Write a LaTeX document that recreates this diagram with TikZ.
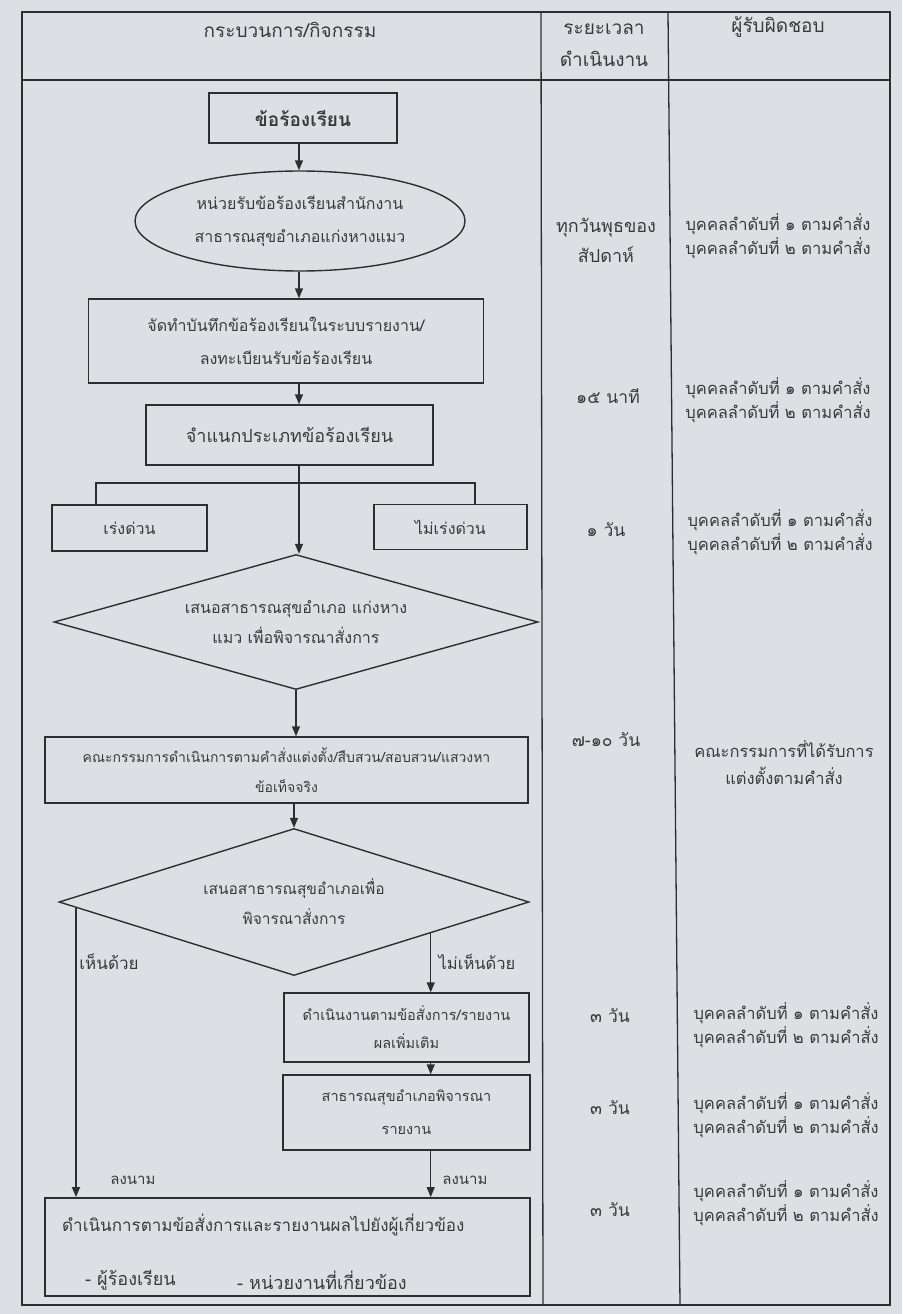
\documentclass[tikz,border=0pt]{standalone}
\usepackage{fontspec}
\setmainfont{Loma}[Script=Thai]
\usetikzlibrary{shapes.geometric,arrows.meta,calc}
\definecolor{paper}{HTML}{DCE0E5}
\definecolor{ink}{HTML}{2E2E2E}
\definecolor{txt}{HTML}{3A3A3A}
\begin{document}
\begin{tikzpicture}[x=1pt,y=-1pt,
  tbl/.style={draw=ink,line width=1.3pt},
  box/.style={draw=ink,line width=1.4pt,rectangle,inner sep=0pt,align=center,text=txt},
  ell/.style={draw=ink,line width=1.4pt,ellipse,inner sep=0pt,align=center,text=txt},
  dia/.style={draw=ink,line width=1.4pt,diamond,inner sep=0pt,align=center,text=txt},
  lbl/.style={inner sep=0pt,text=txt,align=center},
  conn/.style={draw=ink,line width=1.4pt},
  arr/.style={draw=ink,line width=1.4pt,-{Triangle[length=10pt,width=8pt]}},
  fH/.style={font=\fontsize{19}{30}\selectfont},
  fB/.style={font=\fontsize{16}{33}\selectfont},
  fR/.style={font=\fontsize{16.5}{24}\selectfont},
  fT/.style={font=\fontsize{17.5}{20}\selectfont}
]
\useasboundingbox (0,0) rectangle (902,1314);
\fill[paper] (0,0) rectangle (902,1314);
% table frame
\draw[tbl] (22,12) rectangle (890,1305);
\draw[tbl] (22,80) -- (890,80);
\draw[tbl] (541,12) -- (543,1305);
\draw[tbl] (668,12) -- (680,1305);
% header
\node[lbl,fH] (h1) at (290,30) {กระบวนการ/กิจกรรม};
\node[lbl,fH] (h2) at (604,29) {ระยะเวลา};
\node[lbl,fH] (h2b) at (604,59) {ดำเนินงาน};
\node[lbl,fH] (h3) at (778,27) {ผู้รับผิดชอบ};
% flow
\node[box,minimum width=188,minimum height=50,font=\fontsize{19}{22}\selectfont\bfseries] (n1) at (303,118) {ข้อร้องเรียน};
\node[ell,fB,minimum width=330,minimum height=100] (n2) at (300,221) {หน่วยรับข้อร้องเรียนสำนักงาน\\สาธารณสุขอำเภอแก่งหางแมว};
\node[box,fB,minimum width=395,minimum height=84] (n3) at (286,341) {จัดทำบันทึกข้อร้องเรียนในระบบรายงาน/\\ลงทะเบียนรับข้อร้องเรียน};
\node[box,font=\fontsize{18}{20}\selectfont,minimum width=287,minimum height=60] (n4) at (289.5,435) {จำแนกประเภทข้อร้องเรียน};
\node[box,fB,minimum width=155,minimum height=46] (u1) at (129.5,528) {เร่งด่วน};
\node[box,fB,minimum width=153,minimum height=45] (u2) at (450.5,527) {ไม่เร่งด่วน};
\coordinate (j) at (299,483);
\coordinate (bl) at (96,483);
\coordinate (br) at (475,483);
\node[dia,aspect=3.6,font=\fontsize{16}{30}\selectfont,minimum width=484,minimum height=135] (d1) at (296,622) {เสนอสาธารณสุขอำเภอ แก่งหาง\\แมว เพื่อพิจารณาสั่งการ};
\node[box,font=\fontsize{14}{30}\selectfont,minimum width=483,minimum height=66] (n5) at (286.5,770) {คณะกรรมการดำเนินการตามคำสั่งแต่งตั้ง/สืบสวน/สอบสวน/แสวงหา\\ข้อเท็จจริง};
\node[dia,aspect=3.2,font=\fontsize{15.5}{30}\selectfont,minimum width=470,minimum height=147] (d2) at (294,902) {เสนอสาธารณสุขอำเภอเพื่อ\\พิจารณาสั่งการ};
\node[box,font=\fontsize{14.5}{28}\selectfont,minimum width=245,minimum height=69] (n6) at (406.5,1027.5) {ดำเนินงานตามข้อสั่งการ/รายงาน\\ผลเพิ่มเติม};
\node[box,font=\fontsize{14.5}{33}\selectfont,minimum width=247,minimum height=75] (n7) at (406.5,1112.5) {สาธารณสุขอำเภอพิจารณา\\รายงาน};
\node[box,line width=1.8pt,minimum width=485,minimum height=98] (fin) at (287.5,1247) {};
\node[lbl,font=\fontsize{17}{20}\selectfont,anchor=west] (f1) at (62,1225) {ดำเนินการตามข้อสั่งการและรายงานผลไปยังผู้เกี่ยวข้อง};
\node[lbl,font=\fontsize{18}{20}\selectfont,anchor=west] (f2) at (85,1280) {- ผู้ร้องเรียน};
\node[lbl,font=\fontsize{18}{20}\selectfont,anchor=west] (f3) at (237,1280) {- หน่วยงานที่เกี่ยวข้อง};
% connectors
\draw[arr] (n1.south -| j) -- (n2.north -| j);
\draw[arr] (n2.south -| j) -- (n3.north -| j);
\draw[arr] (n3.south -| j) -- (n4.north -| j);
\draw[conn] (n4.south -| j) -- (j);
\draw[conn] (u1.north -| bl) -- (bl) -- (br) -- (u2.north -| br);
\draw[arr] (j) -- (d1.north -| j);
\draw[arr] (d1.south) -- (d1.south |- n5.north);
\draw[arr] (n5.south -| d2.north) -- (d2.north);
\coordinate (yl) at ($(d2.west)!0.075!(d2.south)$);
\coordinate (nr) at ($(d2.east)!0.42!(d2.south)$);
\draw[arr] (yl) -- (yl |- fin.north);
\draw[arr] (nr) -- (nr |- n6.north);
\draw[arr] (nr |- n6.south) -- (nr |- n7.north);
\draw[arr] (nr |- n7.south) -- (nr |- fin.north);
\node[lbl,font=\fontsize{17}{20}\selectfont] (yes) at (109,962) {เห็นด้วย};
\node[lbl,font=\fontsize{16.5}{20}\selectfont] (no) at (477,962) {ไม่เห็นด้วย};
\node[lbl,font=\fontsize{15}{18}\selectfont] (s1) at (133,1180) {ลงนาม};
\node[lbl,font=\fontsize{15}{18}\selectfont] (s2) at (465,1180) {ลงนาม};
% time column
\node[lbl,font=\fontsize{18}{30}\selectfont] (t1) at (606,240) {ทุกวันพุธของ\\สัปดาห์};
\node[lbl,fT] (t2) at (608,396) {๑๕ นาที};
\node[lbl,fT] (t3) at (606,530) {๑ วัน};
\node[lbl,fT] (t4) at (606,740) {๗-๑๐ วัน};
\node[lbl,fT] (t5) at (610,1016) {๓ วัน};
\node[lbl,fT] (t6) at (610,1108) {๓ วัน};
\node[lbl,fT] (t7) at (610,1210) {๓ วัน};
% responsible column
\node[lbl,fR] (r1) at (778,236) {บุคคลลำดับที่ ๑ ตามคำสั่ง\\บุคคลลำดับที่ ๒ ตามคำสั่ง};
\node[lbl,fR] (r2) at (778,400) {บุคคลลำดับที่ ๑ ตามคำสั่ง\\บุคคลลำดับที่ ๒ ตามคำสั่ง};
\node[lbl,fR] (r3) at (780,532) {บุคคลลำดับที่ ๑ ตามคำสั่ง\\บุคคลลำดับที่ ๒ ตามคำสั่ง};
\node[lbl,font=\fontsize{16.5}{27}\selectfont] (r4) at (784,763) {คณะกรรมการที่ได้รับการ\\แต่งตั้งตามคำสั่ง};
\node[lbl,fR] (r5) at (786,1025) {บุคคลลำดับที่ ๑ ตามคำสั่ง\\บุคคลลำดับที่ ๒ ตามคำสั่ง};
\node[lbl,fR] (r6) at (786,1115) {บุคคลลำดับที่ ๑ ตามคำสั่ง\\บุคคลลำดับที่ ๒ ตามคำสั่ง};
\node[lbl,fR] (r7) at (786,1203) {บุคคลลำดับที่ ๑ ตามคำสั่ง\\บุคคลลำดับที่ ๒ ตามคำสั่ง};
\end{tikzpicture}
\end{document}
